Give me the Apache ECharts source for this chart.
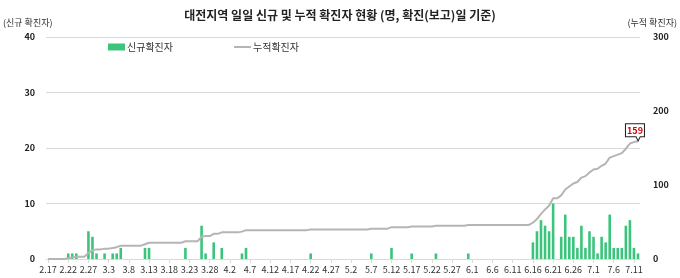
<!DOCTYPE html>
<html><head><meta charset="utf-8">
<script src="https://cdn.jsdelivr.net/npm/echarts@6/dist/echarts.min.js"></script>
<style>html,body{margin:0;padding:0;background:#fff}#c{width:680px;height:278px}</style>
</head><body><div id="c"></div>
<script>
var categories = [
'2.17','2.18','2.19','2.20','2.21','2.22','2.23','2.24','2.25','2.26','2.27','2.28','2.29',
'3.1','3.2','3.3','3.4','3.5','3.6','3.7','3.8','3.9','3.10','3.11','3.12','3.13','3.14','3.15','3.16','3.17','3.18','3.19','3.20','3.21','3.22','3.23','3.24','3.25','3.26','3.27','3.28','3.29','3.30','3.31',
'4.1','4.2','4.3','4.4','4.5','4.6','4.7','4.8','4.9','4.10','4.11','4.12','4.13','4.14','4.15','4.16','4.17','4.18','4.19','4.20','4.21','4.22','4.23','4.24','4.25','4.26','4.27','4.28','4.29','4.30',
'5.1','5.2','5.3','5.4','5.5','5.6','5.7','5.8','5.9','5.10','5.11','5.12','5.13','5.14','5.15','5.16','5.17','5.18','5.19','5.20','5.21','5.22','5.23','5.24','5.25','5.26','5.27','5.28','5.29','5.30','5.31',
'6.1','6.2','6.3','6.4','6.5','6.6','6.7','6.8','6.9','6.10','6.11','6.12','6.13','6.14','6.15','6.16','6.17','6.18','6.19','6.20','6.21','6.22','6.23','6.24','6.25','6.26','6.27','6.28','6.29','6.30',
'7.1','7.2','7.3','7.4','7.5','7.6','7.7','7.8','7.9','7.10','7.11','7.12'
];
var newCases = [
0,0,0,0,0,1,1,1,0,0,5,4,1,
0,1,0,1,1,2,0,0,0,0,0,2,2,0,0,0,0,0,0,0,0,2,0,0,0,6,1,0,3,0,2,
0,0,0,0,1,2,0,0,0,0,0,0,0,0,0,0,0,0,0,0,0,1,0,0,0,0,0,0,0,0,
0,0,0,0,0,0,1,0,0,0,0,2,0,0,0,0,1,0,0,0,0,0,1,0,0,0,0,0,0,0,1,
0,0,0,0,0,0,0,0,0,0,0,0,0,0,0,3,5,7,6,5,10,0,4,8,4,4,2,6,2,5,
4,1,4,3,8,2,2,2,6,7,2,1
];
var cumCases = [
0,0,0,0,0,1,2,3,3,3,8,12,13,
13,14,14,15,16,18,18,18,18,18,18,20,22,22,22,22,22,22,22,22,22,24,24,24,24,30,31,31,34,34,36,
36,36,36,36,37,39,39,39,39,39,39,39,39,39,39,39,39,39,39,39,39,40,40,40,40,40,40,40,40,40,
40,40,40,40,40,40,41,41,41,41,41,43,43,43,43,43,44,44,44,44,44,44,45,45,45,45,45,45,45,45,46,
46,46,46,46,46,46,46,46,46,46,46,46,46,46,46,49,54,61,67,72,82,82,86,94,98,102,104,110,112,117,
121,122,126,129,137,139,141,143,149,156,158,159
];
var leftTicks = [0, 10, 20, 30, 40];
var rightTicks = [0, 100, 200, 300];
var lastIdx = cumCases.length - 1;

var chart = echarts.init(document.getElementById('c'), null, {renderer: 'canvas'});
var font = '"Noto Sans CJK KR", "Noto Sans", sans-serif';
chart.setOption({
  animation: false,
  textStyle: {fontFamily: font},
  title: {
    text: '대전지역 일일 신규 및 누적 확진자 현황 (명, 확진(보고)일 기준)',
    left: 'center', top: 4,
    textStyle: {fontSize: 12, fontWeight: 'bold', color: '#222', fontFamily: font}
  },
  legend: {
    left: 103, top: 37, itemGap: 60, itemWidth: 17, itemHeight: 7,
    textStyle: {fontSize: 10, color: '#333', fontFamily: font, padding: [0,0,0,-3]},
    data: [
      {name: '신규확진자', icon: 'rect'},
      {name: '누적확진자', itemStyle: {opacity: 0, borderWidth: 0, color: 'transparent'}}
    ]
  },
  grid: {left: 45, right: 39, top: 37, bottom: 19},
  xAxis: {
    type: 'category', data: categories, boundaryGap: true,
    axisLine: {lineStyle: {color: '#d9d9d9'}},
    axisTick: {show: true, interval: 4, length: 4, alignWithLabel: true, lineStyle: {color: '#d9d9d9'}},
    axisLabel: {interval: 4, fontSize: 9, color: '#333', margin: 6, fontFamily: font}
  },
  yAxis: [{
    type: 'value', min: leftTicks[0], max: leftTicks[leftTicks.length-1], interval: 10,
    name: '(신규 확진자)', nameLocation: 'end', nameGap: 10,
    nameTextStyle: {fontSize: 9, color: '#333', align: 'left', padding: [0,0,0,-43], fontFamily: font},
    axisLine: {show: false}, axisTick: {show: false},
    axisLabel: {fontSize: 9, fontWeight: 'bold', color: '#222', margin: 11, fontFamily: font},
    splitLine: {lineStyle: {color: '#d9d9d9'}}
  }, {
    type: 'value', min: rightTicks[0], max: rightTicks[rightTicks.length-1], interval: 100,
    name: '(누적 확진자)', nameLocation: 'end', nameGap: 10,
    nameTextStyle: {fontSize: 9, color: '#333', align: 'right', padding: [0,-37,0,0], fontFamily: font},
    axisLine: {show: false}, axisTick: {show: false},
    axisLabel: {fontSize: 9, fontWeight: 'bold', color: '#222', margin: 13, fontFamily: font},
    splitLine: {show: false}
  }],
  series: [{
    name: '신규확진자', type: 'bar', yAxisIndex: 0, data: newCases,
    barWidth: 2.6, itemStyle: {color: '#3cc47c'}
  }, {
    name: '누적확진자', type: 'line', yAxisIndex: 1, data: cumCases,
    symbol: 'none', showSymbol: false,
    lineStyle: {color: '#b5b5b5', width: 2},
    itemStyle: {color: '#b5b5b5'},
    markPoint: {
      symbol: 'path://M0,0 L18,0 L18,13 L14,13 L12,17 L10,13 L0,13 Z',
      symbolSize: [19, 17], symbolOffset: [-3, -9],
      itemStyle: {color: '#fff', borderColor: '#222', borderWidth: 1},
      label: {show: true, color: '#e00000', fontWeight: 'bold', fontSize: 9, offset: [0, -2], fontFamily: font},
      data: [{coord: [categories[lastIdx], cumCases[lastIdx]], value: cumCases[lastIdx]}]
    }
  }]
});
</script></body></html>
